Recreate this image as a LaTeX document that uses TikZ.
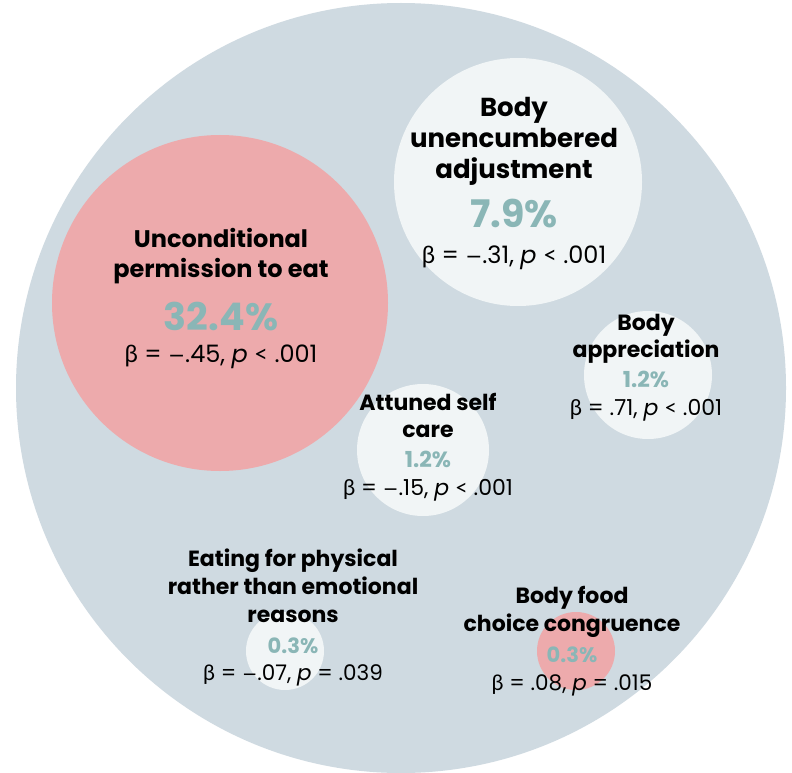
\documentclass[tikz,border=0pt]{standalone}
\usepackage{fontspec}
\setmainfont{Poppins}
\newfontfamily\greekfont{Lato}
\newfontfamily\signfont{DejaVu Sans}
\definecolor{outerblue}{HTML}{CFDAE1}
\definecolor{pinkfill}{HTML}{EDAAAC}
\definecolor{palefill}{HTML}{F1F5F6}
\definecolor{shareteal}{HTML}{8AB6B6}
\newcommand{\minussign}{{\signfont\fontsize{0.85em}{1em}\selectfont −}}
\newcommand{\lesssign}{{\greekfont <}}
\newcommand{\statline}[3]{{\greekfont β} = #1, \textit{p} #2 #3}
\tikzset{
  bubble/.style={circle,draw=none,inner sep=0pt},
  headtext/.style={align=center,anchor=base,inner sep=0pt,text=black},
  sharetext/.style={anchor=base,inner sep=0pt,text=shareteal},
  stattext/.style={anchor=base,inner sep=0pt,text=black}
}
\begin{document}
\begin{tikzpicture}[x=1pt,y=-1pt]
  \useasboundingbox (0,0) rectangle (792,773);
  \fill[white] (0,0) rectangle (792,773);
  \def \Bubbles{
    outer/401/388/385/outerblue,
    perm/220/303/168/pinkfill,
    unenc/518/182/124/palefill,
    apprec/648/375/64/palefill,
    attuned/423/450/66/palefill,
    eating/285/651/39/palefill,
    food/576/651/39/pinkfill}
  % head y = baseline of the last head line
  \def \Labels{
    perm/221/277/24/30/{Unconditional\\permission to eat}/330/38/{32.4\%}/362/24/{\statline{\minussign.45}{\lesssign}{.001}},
    unenc/514/178/26/31/{Body\\unencumbered\\adjustment}/227/38/{7.9\%}/263/24/{\statline{\minussign.31}{\lesssign}{.001}},
    apprec/646/357/22/27/{Body\\appreciation}/387/22/{1.2\%}/415/22/{\statline{.71}{\lesssign}{.001}},
    attuned/428/437/22/27/{Attuned self\\care}/467/22/{1.2\%}/495/22/{\statline{\minussign.15}{\lesssign}{.001}},
    eating/293/622/22/28/{Eating for physical\\rather than emotional\\reasons}/653/21/{0.3\%}/680/21.5/{\statline{\minussign.07}{=}{.039}},
    food/572/631/22/28/{Body food\\choice congruence}/662/21/{0.3\%}/690/21.5/{\statline{.08}{=}{.015}}}
  \foreach \id / \x / \y / \r / \c in \Bubbles{
    \node[bubble,fill=\c,minimum size=2*\r pt] (\id) at (\x, \y) {};
  }
  \foreach \id / \x / \hy / \hs / \hk / \head / \sy / \ss / \share / \ty / \ts / \stats in \Labels{
    \node[headtext,font=\bfseries\fontsize{\hs}{\hk}\selectfont] (\id-head) at (\x, \hy) {\head};
    \node[sharetext,font=\bfseries\fontsize{\ss}{\ss}\selectfont] (\id-share) at (\x, \sy) {\share};
    \node[stattext,font=\fontsize{\ts}{\ts}\selectfont] (\id-stats) at (\x, \ty) {\stats};
  }
\end{tikzpicture}
\end{document}
